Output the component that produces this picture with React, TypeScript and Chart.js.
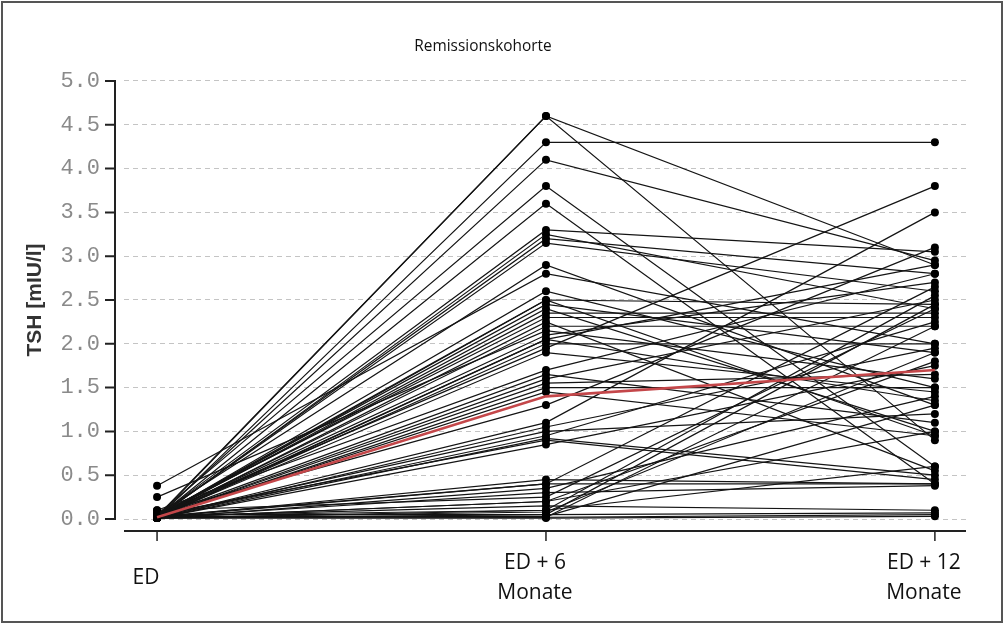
import React, { useEffect, useRef } from "react";
import { Chart, registerables } from "chart.js";

Chart.register(...registerables);

// ---- data ----
const chartTitle = "Remissionskohorte";
const yAxisTitle = "TSH [mIU/l]";
const timeIndex = [0, 1, 2];
const timeLabels = [["ED"], ["ED + 6", "Monate"], ["ED + 12", "Monate"]];
const yTickValues = [0, 0.5, 1, 1.5, 2, 2.5, 3, 3.5, 4, 4.5, 5];

// TSH per subject at diagnosis (ED), ED + 6 months, ED + 12 months
const tshED = [
  0.02, 0.03, 0.01, 0.02, 0.05, 0.02, 0.03, 0.01, 0.02, 0.05,
  0.38, 0.02, 0.01, 0.03, 0.02, 0.05, 0.01, 0.02, 0.25, 0.03,
  0.02, 0.01, 0.05, 0.02, 0.1, 0.03, 0.02, 0.01, 0.02, 0.07,
  0.02, 0.01, 0.03, 0.02, 0.05, 0.01, 0.02, 0.03, 0.01, 0.02,
  0.1, 0.02, 0.03, 0.01, 0.02, 0.05, 0.01, 0.02, 0.03, 0.01,
  0.02, 0.04, 0.02, 0.03, 0.01, 0.02, 0.01, 0.02, 0.03, 0.02,
];
const tshM6 = [
  4.6, 4.6, 4.3, 4.1, 3.8, 3.6, 3.3, 3.25, 3.15, 2.9,
  2.8, 2.6, 2.5, 2.45, 2.4, 2.3, 2.25, 2.2, 2.15, 2.1,
  2.05, 2.0, 1.95, 1.9, 1.7, 1.65, 1.6, 1.5, 1.45, 1.3,
  1.1, 1.05, 1.0, 0.95, 0.9, 0.85, 0.45, 0.4, 0.35, 0.3,
  0.25, 0.2, 0.15, 0.1, 0.08, 0.05, 0.05, 0.03, 0.02, 0.01,
  0.02, 0.1, 0.2, 2.35, 2.05, 1.55, 0.92, 3.2, 2.5, 0.4,
];
const tshM12 = [
  2.9, 0.9, 4.3, 2.95, 0.6, 0.4, 3.05, 2.4, 2.6, 1.3,
  2.0, 1.5, 2.45, 1.9, 1.0, 2.3, 0.55, 2.2, 1.6, 2.7,
  1.35, 2.0, 3.8, 1.45, 2.8, 1.1, 2.5, 1.5, 0.95, 3.1,
  3.5, 1.95, 1.2, 2.25, 0.45, 1.75, 0.4, 2.65, 1.4, 0.38,
  2.4, 1.8, 0.1, 2.55, 1.9, 0.07, 2.45, 1.3, 0.05, 0.03,
  2.2, 0.6, 1.0, 2.35, 2.9, 1.65, 0.5, 2.8, 0.95, 0.4,
];
const medianTSH = [0.02, 1.4, 1.7];

// ---- custom axis drawing (offset axes) ----
const offsetAxesPlugin = {
  id: "offsetAxes",
  afterDraw(chart: any) {
    const { ctx, chartArea, scales } = chart;
    const xs = scales.x;
    const ys = scales.y;
    ctx.save();
    ctx.strokeStyle = "#222";
    ctx.lineWidth = 2;
    // y axis line
    const axX = chartArea.left - 9;
    const yTop = ys.getPixelForValue(yTickValues[yTickValues.length - 1]);
    const yBot = ys.getPixelForValue(yTickValues[0]);
    ctx.beginPath();
    ctx.moveTo(axX, yTop - 1);
    ctx.lineTo(axX, yBot + 1);
    ctx.stroke();
    ctx.beginPath();
    for (const v of yTickValues) {
      const py = ys.getPixelForValue(v);
      ctx.moveTo(axX - 10, py);
      ctx.lineTo(axX, py);
    }
    ctx.stroke();
    // x axis line
    const axY = chartArea.bottom + 12;
    ctx.beginPath();
    ctx.moveTo(chartArea.left, axY);
    ctx.lineTo(chartArea.right, axY);
    ctx.stroke();
    ctx.lineWidth = 1.5;
    ctx.beginPath();
    for (const v of timeIndex) {
      const px = xs.getPixelForValue(v);
      ctx.moveTo(px, axY);
      ctx.lineTo(px, axY + 10);
    }
    ctx.stroke();
    // outer frame
    ctx.strokeStyle = "#555";
    ctx.lineWidth = 2;
    ctx.strokeRect(2, 2, chart.width - 4, chart.height - 4);
    ctx.restore();
  },
};

export default function App() {
  const canvasRef = useRef<HTMLCanvasElement | null>(null);

  useEffect(() => {
    if (!canvasRef.current) return;

    const subjectDatasets = tshED.map((ed, i) => ({
      label: "Patient " + (i + 1),
      data: [
        { x: timeIndex[0], y: ed },
        { x: timeIndex[1], y: tshM6[i] },
        { x: timeIndex[2], y: tshM12[i] },
      ],
      borderColor: "#141414",
      borderWidth: 1.2,
      pointRadius: 4,
      pointBackgroundColor: "#000",
      pointBorderColor: "#000",
      pointBorderWidth: 0,
      clip: false,
      order: 1,
    }));

    const medianDataset = {
      label: "Median",
      data: timeIndex.map((t, i) => ({ x: t, y: medianTSH[i] })),
      borderColor: "#c4474a",
      borderWidth: 2.6,
      pointRadius: 0,
      clip: false,
      order: 0,
    };

    const chart = new Chart(canvasRef.current, {
      type: "line",
      data: { datasets: [medianDataset, ...subjectDatasets] as any },
      plugins: [offsetAxesPlugin],
      options: {
        animation: false,
        responsive: false,
        layout: { padding: { left: 0, right: 38, top: 0, bottom: 0 } },
        plugins: {
          legend: { display: false },
          tooltip: { enabled: false },
          title: {
            display: true,
            text: chartTitle,
            color: "#111",
            font: { family: "'Open Sans', sans-serif", size: 15.4, weight: "normal", lineHeight: 1.2 },
            padding: { top: 37.8, bottom: 24.7 },
          },
        },
        scales: {
          x: {
            type: "linear",
            min: -0.085,
            max: 2.08,
            afterBuildTicks: (scale: any) => {
              scale.ticks = timeIndex.map((v) => ({ value: v }));
            },
            afterFit: (scale: any) => {
              scale.height = 105;
            },
            grid: { display: false, drawTicks: true, tickLength: 40 },
            border: { display: false },
            ticks: {
              padding: 4,
              labelOffset: -11,
              crossAlign: "center",
              maxRotation: 0,
              autoSkip: false,
              color: "#111",
              font: { family: "'Open Sans', sans-serif", size: 21, lineHeight: 1.45 },
              callback: (value: any) => timeLabels[value as number] ?? "",
            },
          },
          y: {
            type: "linear",
            min: 0,
            max: 5,
            afterBuildTicks: (scale: any) => {
              scale.ticks = yTickValues.map((v) => ({ value: v }));
            },
            afterFit: (scale: any) => {
              scale.width = 124;
            },
            grid: {
              display: true,
              color: "#c4c4c4",
              lineWidth: 1,
              drawTicks: false,
            },
            border: { display: false, dash: [5, 4] },
            ticks: {
              padding: 24,
              color: "#8a8a8a",
              font: { family: "'Liberation Mono', monospace", size: 22 },
              callback: (value: any) => Number(value).toFixed(1),
            },
            title: {
              display: true,
              text: yAxisTitle,
              color: "#333",
              font: { family: "'Liberation Sans', Arial, sans-serif", size: 21, weight: "bold" },
              padding: { top: 23, bottom: 0 },
            },
          },
        },
      } as any,
    });

    return () => chart.destroy();
  }, []);

  return (
    <div style={{ position: "absolute", left: 0, top: 0, width: 1004, height: 624, background: "#fff" }}>
      <canvas ref={canvasRef} width={1004} height={624} style={{ display: "block" }} />
    </div>
  );
}
